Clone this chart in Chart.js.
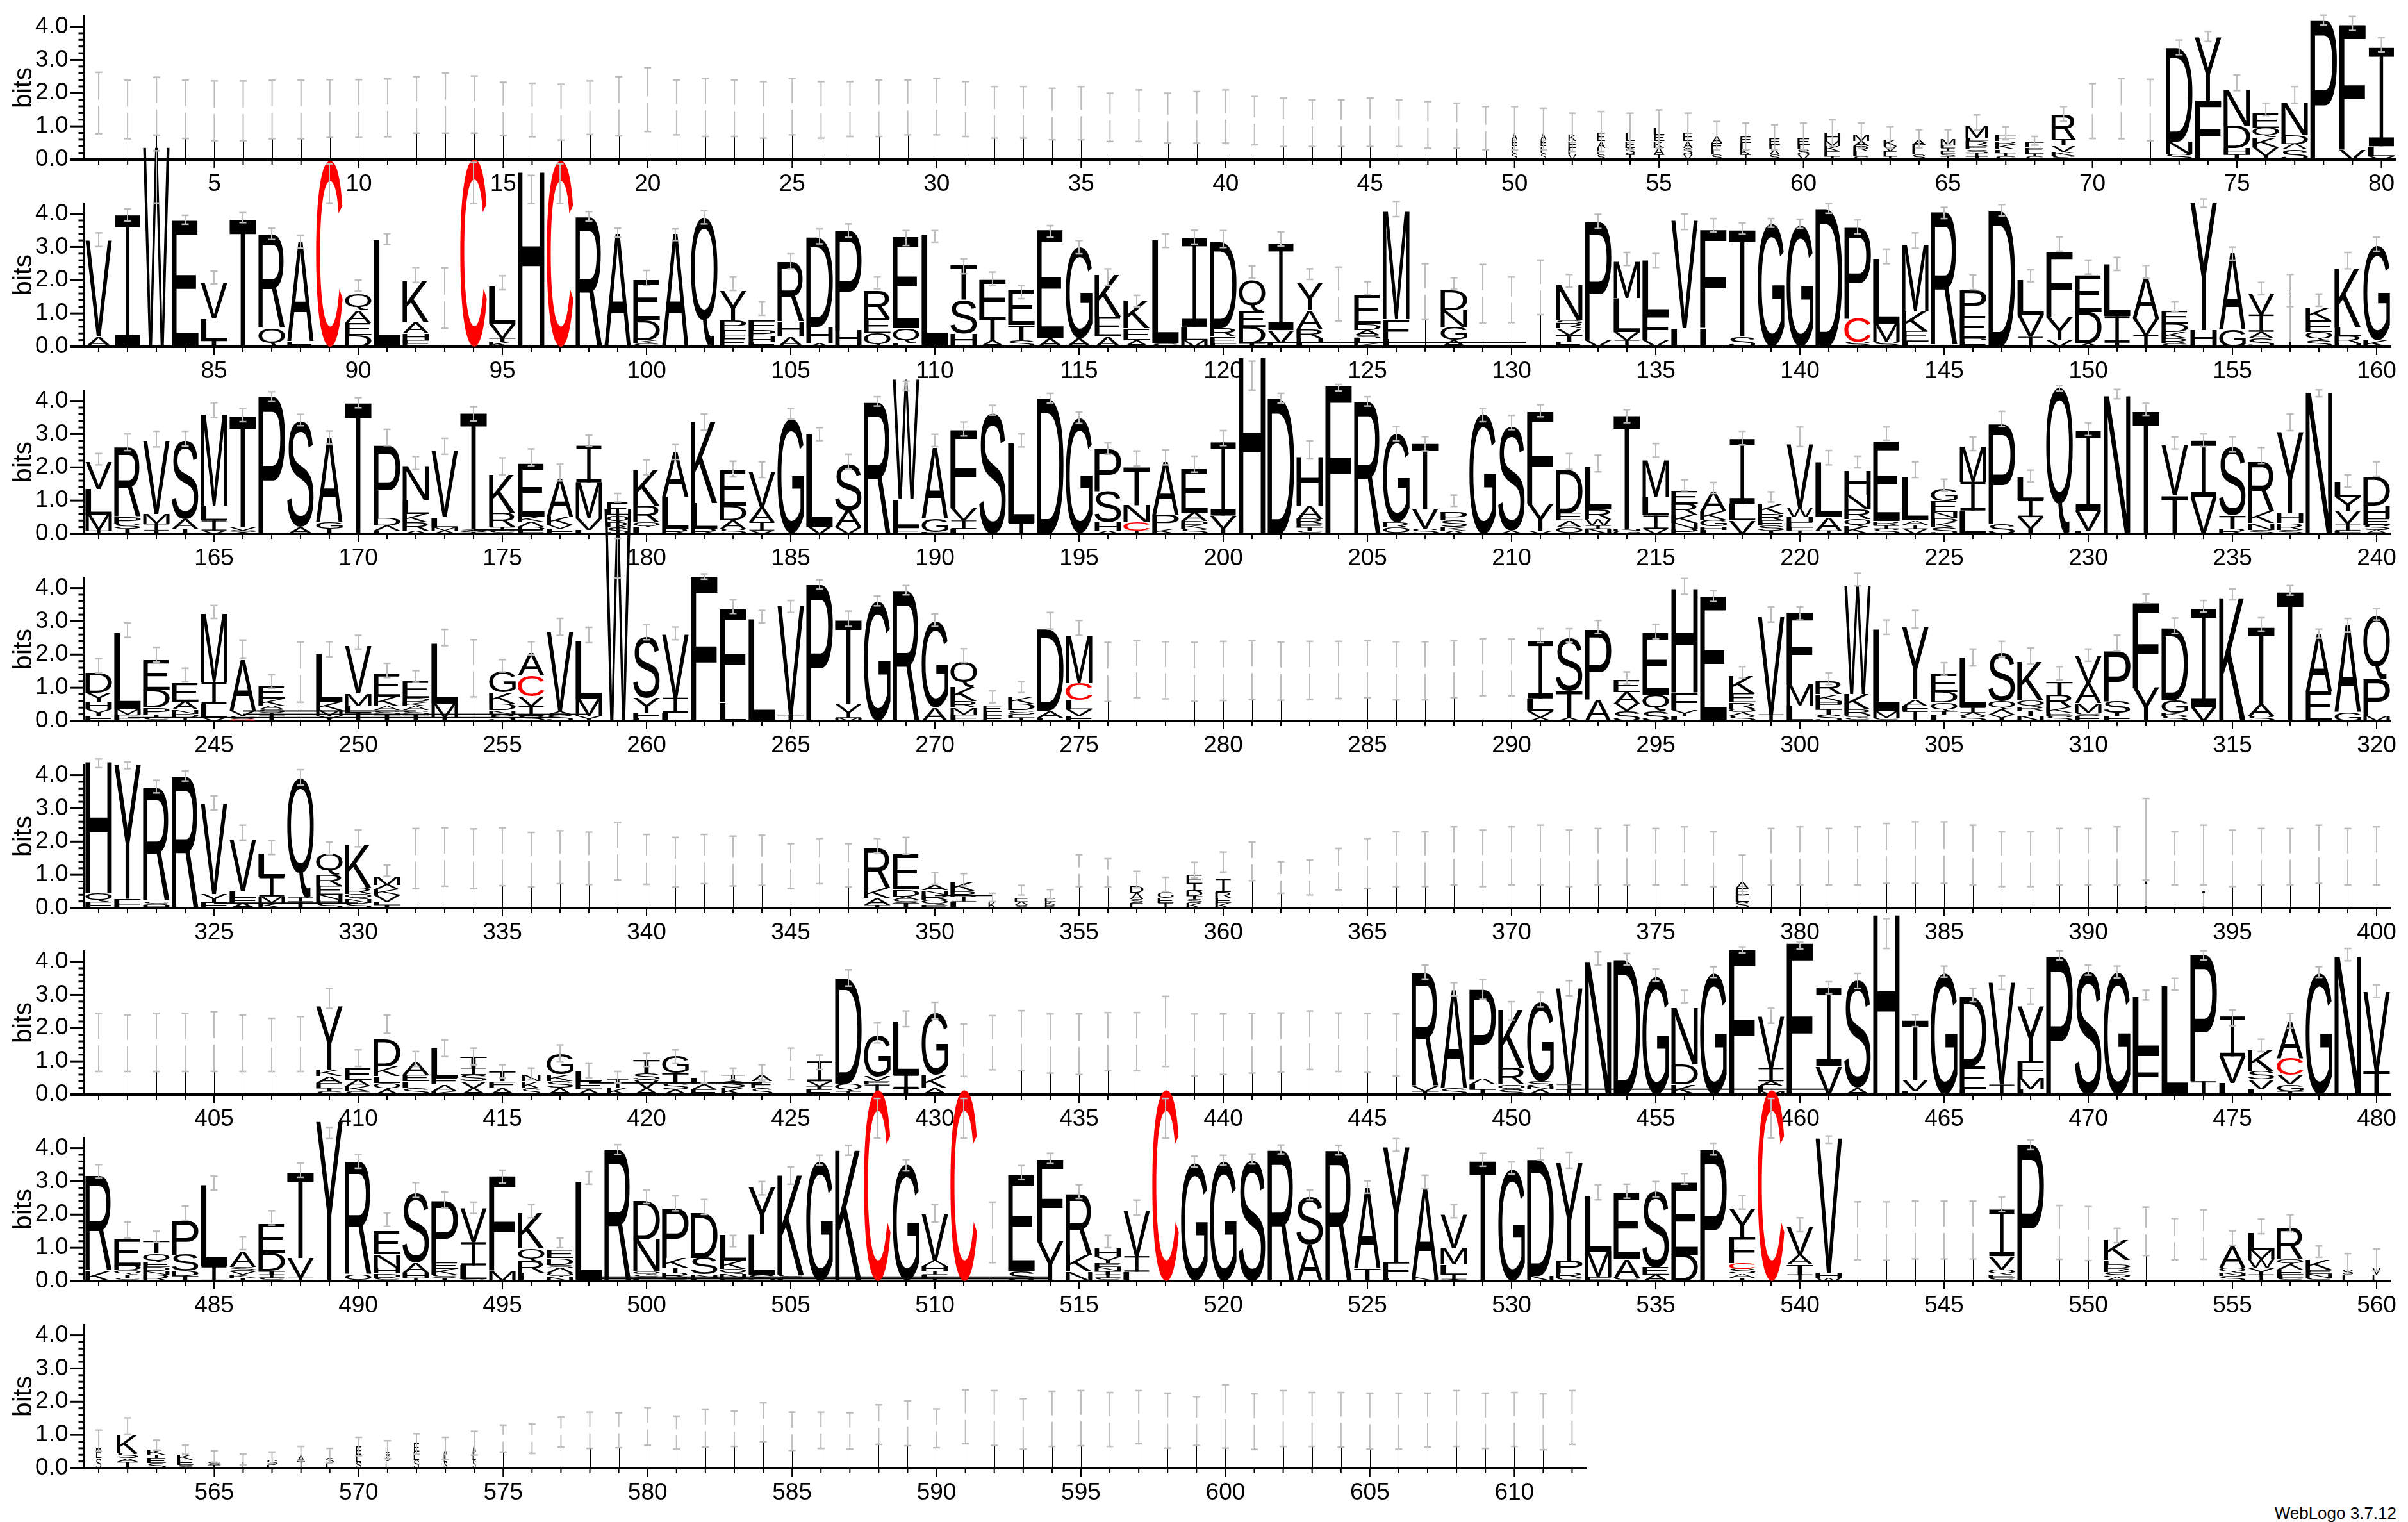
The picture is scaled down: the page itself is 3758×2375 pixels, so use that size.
<!DOCTYPE html>
<html>
<head>
<meta charset="utf-8">
<title>WebLogo</title>
<script src="https://cdn.jsdelivr.net/npm/chart.js@4"></script>
<style>
  body { margin: 0; background: #fff; width: 3758px; height: 2375px; overflow: hidden; position: relative; }
  canvas { position: absolute; left: 0; }
  #credit { position: absolute; right: 18px; top: 2346px; font: 26px "Liberation Sans"; color: #000; }
</style>
</head>
<body>
<div id="credit">WebLogo 3.7.12</div>
<script>
// stacks are bottom to top, letter + height in bits. "~.5" = column narrower than the full slot
const row1Stacks = [
  "","","","","","","","","","",
  "","","","","","","","","","",
  "","","","","","","","","","",
  "","","","","","","","","","",
  "","","","","","","","","","~.2 S.2 L.2 E.2 A.2",
  "~.2 S.2 L.2 E.2 A.2","~.3 V.15 L.2 E.2 K.2","~.3 S.15 L.2 A.2 E.25","~.35 T.15 S.2 E.2 L.25","~.4 T.15 A.2 K.2 E.2 L.2","~.35 V.15 S.2 A.2 E.25","~.4 S.15 L.15 E.2 A.2","~.4 T.15 K.15 L.2 E.2","~.4 S.15 A.15 L.15 E.2","~.45 V.15 S.15 L.15 E.2",
  "~.6 T.1 E.15 K.15 M.15 H.25","~.6 S.1 L.15 R.15 A.15 M.2","~.5 T.1 E.15 V.15 K.2","~.5 S.15 L.15 E.15 A.15","~.55 T.1 S.08 E.08 I.08 L.08 M.2","~.85 T.1 I.1 S.1 E.1 R.15 L.1 M.35","~.8 S.1 I.1 L.1 K.15 R.1 F.2","~.7 S.1 I.08 L.08 E.1 F.15","~.9 S.12 K.12 V.18 T.2 R.75","",
  "","","S.18 N.36 D2.81","F1.78 Y1.9","T.15 H.2 D.66 N1.08","T.12 V.25 K.3 Q.27 E.45","S.3 A.17 D.27 N.98","P4.2","V.3 F3.75","V.1 L.3 I2.96"
];
const row1ErrHigh = [
  2.63,2.39,2.48,2.39,2.37,2.37,2.39,2.39,2.41,2.41,
  2.43,2.5,2.61,2.52,2.33,2.3,2.27,2.37,2.5,2.77,
  2.4,2.45,2.4,2.35,2.45,2.35,2.35,2.4,2.4,2.45,
  2.35,2.2,2.2,2.15,2.2,2.0,2.1,2.0,2.05,2.1,
  1.9,1.85,1.8,1.8,1.85,1.8,1.75,1.7,1.6,1.6,
  1.55,1.4,1.45,1.4,1.5,1.4,1.15,1.1,1.05,1.1,
  1.2,1.1,1.0,.9,.9,1.35,.99,.7,1.6,2.29,
  2.44,2.42,3.6,3.86,2.55,1.7,2.2,4.35,4.31,3.67
];
const row1ErrLow = [
  .78,.63,.74,.64,.57,.57,.63,.63,.67,.67,
  .69,.8,.8,.8,.73,.69,.59,.76,.72,.85,
  .75,.7,.7,.65,.75,.65,.7,.7,.75,.75,
  .7,.65,.65,.6,.6,.55,.55,.5,.5,.5,
  .45,.4,.4,.4,.4,.4,.35,.35,.3,.3,
  .3,.25,.25,.3,.35,.3,.3,.3,.3,.3,
  .4,.35,.35,.35,.44,.9,.6,.44,1.16,.64,
  .63,.57,3.16,3.56,2.08,1.33,1.7,4.05,3.89,3.25
];
const row1Streaks = [];

const row2Stacks = [
  "A.3 V2.9","I3.95","W6.0","E3.8","T.2 L.65 V1.05","T3.85","Q.55 R2.8","E.15 A3.0","C5.6","D.35 E.37 A.37 Q.5",
  "L3.2","E.1 F.1 H.2 A.33 K1.24","","C5.65","K.15 T.1 V.42 L1.14","H5.25","C5.6","R3.9","A3.4","S.1 K.1 D.6 E1.2",
  "A3.4","Q3.9","E.25 F.25 P.3 Y.9","F.15 H.15 P.2 F.3","A.3 H.45 R1.8","A.1 H.5 D2.7","H.5 P3.0","Q.4 E.45 R.85","L.1 Q.45 E2.75","V.05 L3.3",
  "H.4 S1.0 T1.05","A.2 T.7 F1.1","S.2 T.45 E1.05","A.25 E3.25","A.25 G2.75","A.3 E.6 K1.25","A.2 E.35 K.85","S.1 L3.1","M.2 L.4 I2.66","F.1 E.2 R.25 D2.6",
  "T.1 D.5 E.46 Q.95","L.1 V.4 I2.6","L.15 H.1 R.26 A.58 Y.85","","K.1 L.15 S.1 A.15 D.17 E.9","L.22 F.6 M3.23","","A.2 G.4 N.5 D.6","","",
  "","E.15 T.2 V.2 R.15 S.1 N1.05","V.2 P3.55","I.2 V.25 L1.02 M1.08","V.2 F.75 L1.66","L.55 V3.24","L.55 F2.95","S.3 T3.2","G3.7","G3.65",
  "D4.15","S.15 C.7 P2.75","S.15 M.55 L1.95","L.15 E.32 K.6 M2.0","I.05 R4.0","F.15 P.1 E.67 P.75","D4.1","I.3 V.65 L1.05","V.2 Y.7 F1.95","A.1 D.95 E1.12",
  "T.12 I.8 L1.55","I.35 V.48 A1.25","S.1 R.15 K.2 D.25 E.4","H.5 Y3.85","G.5 A2.3","S.25 A.2 I.52 V.65","~.1 I1.7","S.2 Q.25 E.35 K.4","H.1 R.22 L.26 K1.76","K.2 G2.85"
];
const row2ErrHigh = [
  3.43,4.15,5.9,3.96,2.28,4.04,3.57,3.36,5.5,2.01,
  3.41,2.39,2.38,5.55,2.14,5.16,5.51,4.07,3.57,2.3,
  3.55,4.1,2.1,1.35,2.8,3.55,3.7,2.1,3.5,3.5,
  2.65,2.25,1.85,3.65,3.2,2.35,1.55,3.4,3.51,3.5,
  2.44,3.46,2.35,2.4,1.96,4.38,2.5,2.08,2.48,2.1,
  2.61,2.18,3.99,2.84,2.81,4.0,3.86,3.73,3.86,3.84,
  4.31,3.82,2.94,3.43,4.2,2.16,4.28,2.32,3.31,2.61,
  2.69,2.45,1.35,4.45,3.0,1.94,2.18,1.59,2.84,3.3
];
const row2ErrLow = [
  3.02,3.79,4.33,3.69,1.9,3.74,3.23,2.97,4.33,1.68,
  3.08,1.94,.56,4.31,1.72,4.31,4.31,3.78,3.3,1.85,
  3.2,3.7,1.7,.95,2.35,3.1,3.3,1.75,3.05,3.15,
  2.2,1.85,1.45,3.3,2.8,1.85,1.2,2.99,3.09,2.99,
  2.06,3.03,2.03,.78,1.57,3.92,.82,1.73,.72,.73,
  .97,1.8,3.56,2.45,2.39,3.53,3.46,3.39,3.6,3.56,
  4.02,3.4,2.5,2.97,3.86,1.72,3.94,1.96,2.88,2.19,
  2.3,2.06,1.05,4.2,2.61,1.57,1.21,1.22,2.35,2.88
];
const row2Streaks = [[121,130.5,.13]];

const row3Stacks = [
  "I.1 M.48 L.77 V.8","T.15 S.15 P.2 R2.1","T.1 I.2 M.3 V2.2","T.15 A.3 S2.37","V.1 I.3 L.45 M2.75","A.05 S.05 V.1 T3.36","P4.13","A.2 S3.2","T.15 G.2 A2.55","T3.96",
  "L.1 A.15 D.22 P2.2","A.1 R.25 K.25 L.42 N1.02","A.1 M.1 L.3 V2.0","T.05 A.05 S.05 T3.5","S.1 I.1 R.42 K1.15","F.1 D.12 A.14 K.15 E1.6","F.15 V.12 K.25 A1.15","L.12 V.35 M1.08 I1.1","~.8 S.2 R.15 Q.2 E.4","L.2 Q.15 R.5 K1.05",
  "R.15 L.95 A1.35","R.15 L.77 K2.45","S.15 A.25 D.45 E1.05","V.1 I.25 A.45 V1.05","G3.43","V.22 L2.79","V.2 A.5 S1.4","R3.95","F.2 L.85 W3.6","F.05 G.4 A2.15",
  "L.15 I.25 V.38 F2.35","S3.65","I.33 L2.4","D4.08","G3.45","A.1 H.25 S.95 P1.25","I.1 C.25 N.52 T1.15","K.15 P.42 A1.6","S.15 K.12 D.11 A.26 E1.3","T.15 V.4 I2.2",
  "H5.3","D4.07","S.1 T.1 E.1 R.15 A.4 H1.45","F4.45","R3.97","Q.2 R.15 G2.66","S.15 V.6 T1.96","A.1 K.1 S.2 P.25","G3.6","A.1 S3.15",
  "V.1 Y.8 F2.76","Q.2 A.2 E.22 D1.3","N.15 I.1 W.2 R.3 L1.25","G.1 N.05 T3.4","V.15 I.4 L.55 M1.12","P.15 N.18 K.25 R.32 E.4","L.12 H.1 G.2 K.25 A.6","V.4 L.5 I1.95","T.1 S.15 E.15 R.2 K.3","I.1 F.1 E.15 H.15 W.3 V1.9",
  "I.1 A.4 L1.65","K.22 Q.23 R.29 N.44 H.72","S.15 I.1 R.13 E2.39","V.15 I.12 A.13 L1.3","S.2 K.15 D.13 N.18 E.32 G.39","L.7 I.87 M1.05","S.3 P3.0","T.15 V.35 I.53 L.66","Q4.4","L.1 V.58 I2.42",
  "N4.15","T3.7","T1.15 V1.5","V1.1 I1.7","R.15 T.4 S2.06","S.12 N.2 K.35 R1.5","S.12 R.2 H.3 Y2.45","N4.25","F.1 I.2 V.4 Y.41 L.45","A.12 S.15 E.2 H.37 D.87"
];
const row3ErrHigh = [
  2.42,3.01,3.09,3.09,3.95,3.78,4.28,3.6,3.1,4.1,
  3.15,2.33,2.88,3.83,2.29,2.56,2.1,2.98,1.22,2.23,
  2.69,3.61,2.19,2.17,3.78,3.2,2.4,4.13,4.6,3.0,
  3.37,3.87,3.01,4.23,3.67,2.74,2.5,2.53,2.34,3.11,
  5.2,4.23,2.8,4.5,4.13,3.24,2.93,1.17,3.78,3.57,
  3.89,2.42,2.37,3.74,2.72,1.63,1.55,3.09,1.27,3.22,
  2.51,2.34,3.22,2.17,1.65,2.92,3.69,1.92,4.47,3.35,
  4.35,3.93,2.92,3.01,2.93,2.6,3.61,4.34,1.78,2.17
];
const row3ErrLow = [
  2.08,2.51,2.62,2.65,3.5,3.38,4.0,3.26,2.71,3.8,
  2.66,1.94,2.4,3.4,1.78,2.05,1.6,2.63,.96,1.78,
  2.24,3.13,1.72,1.7,3.46,2.81,1.96,3.85,4.33,2.63,
  2.95,3.58,2.62,3.94,3.33,2.4,2.05,2.08,1.86,2.66,
  4.33,3.94,2.26,4.3,3.85,2.81,2.5,.83,3.38,3.14,
  3.53,1.94,1.87,3.35,2.31,1.31,1.22,2.68,.96,2.63,
  2.08,1.99,2.82,1.7,1.28,2.51,3.24,1.57,4.3,2.96,
  4.07,3.57,2.56,2.63,2.47,2.12,3.11,4.13,1.41,1.74
];
const row3Streaks = [[174,176.4,.12]];

const row4Stacks = [
  "F.15 T.1 V.1 H.22 Y.28 D.58","F.2 M.15 L2.3","S.1 T.1 P.2 D.53 E.92","I.1 D.12 N.12 A.24 E.56","V.1 L.42 I.65 M2.05","C.05 S.1 V.15 A1.55","T.15 I.1 S.1 A.12 K.2 E.37","","Y.15 M.18 K.22 L1.45","T.25 L.2 M.38 V1.42",
  "T.2 S.12 A.12 K.3 E.67","T.2 S.12 A.12 K.13 D.13 E.49","T.1 M.42 L1.8","","S.2 N.13 D.2 K.33 G.64","S.15 I.3 V.3 C.61 A.66","S.2 A.1 V2.38","Y.15 M.5 L1.75","W6.4","L.1 F.15 Y.44 S1.85",
  "L.25 I.45 V1.9","F4.35","L.55 F2.8","L3.05","T.2 V3.25","P4.1","M.1 I.15 V.25 T2.55","G3.6","R3.9","A.4 G2.6",
  "F.2 M.2 R.2 K.42 Q.75","~.7 F.15 L.12 E.2","I.1 E.1 S.12 D.2 K.2","L.1 A.2 D2.45","F.15 V.2 L.28 C.5 M1.42","","","","","",
  "","","","","","","","","","",
  "A.1 V.2 L.38 I1.73","A.1 T.8 S1.58","A.65 P2.1","S.3 V.22 A.34 E.36","S.3 Q.5 E1.85","L.15 Y.18 F.52 H3.1","E3.75","S.15 A.1 Q.12 R.18 E.27 K.52","I.2 V2.95","L.46 M.65 F2.15",
  "S.2 T.15 E.15 H.1 K.2 R.4","S.1 Q.1 R.15 K.46 W3.25","S.1 M.2 L2.45","I.3 F.15 A.2 Y2.18","L.2 T.1 Q.25 D.32 E.55","S.15 A.1 I.15 L1.5","T.1 V.1 A.15 Q.25 S1.45","N.15 T.15 R.12 Q.2 K1.15","S.15 E.1 K.15 R.4 T.4","E.15 S.1 M.28 A.6 V.82",
  "F.15 T.1 S.35 P1.5","Y1.0 F2.55","S.15 K.1 G.37 D2.17","V.42 I2.95","K3.7","S.15 A.35 T2.3","T3.9","E.88 A1.74","G.25 A2.65","M.15 P1.1 Q1.9"
];
const row4ErrHigh = [
  1.88,2.95,2.22,1.59,3.48,2.44,1.4,2.38,2.39,2.58,
  1.74,1.52,2.76,2.45,1.85,2.39,3.09,2.82,5.5,2.9,
  2.83,4.43,3.65,3.33,3.63,4.25,3.31,3.76,4.08,3.22,
  2.18,.91,1.19,3.27,3.03,2.37,2.42,2.39,2.37,2.4,
  2.42,2.38,2.4,2.4,2.42,2.39,2.39,2.42,2.47,2.47,
  2.78,2.78,3.03,1.48,2.91,4.29,3.93,1.64,3.43,3.44,
  1.45,4.45,3.04,3.33,1.76,2.17,2.4,2.2,1.64,2.17,
  2.59,3.83,3.1,3.63,3.98,3.11,4.08,2.77,3.09,3.39
];
const row4ErrLow = [
  1.45,2.52,1.78,1.18,3.09,1.9,.99,.57,1.93,2.17,
  1.31,1.17,2.27,.73,1.48,1.99,2.58,2.36,4.31,2.45,
  2.45,4.27,3.24,2.96,3.27,3.97,2.85,3.47,3.8,2.85,
  1.76,.55,.86,2.77,2.58,.59,.7,.67,.6,.62,
  .65,.63,.65,.68,.7,.64,.64,.7,.76,.76,
  2.36,2.38,2.64,1.11,2.48,3.82,3.6,1.29,2.98,3.04,
  1.1,4.07,2.61,2.8,1.38,1.66,1.94,1.72,1.24,1.8,
  2.12,3.57,2.64,3.28,3.65,2.71,3.79,2.5,2.69,3.04
];
const row4Streaks = [[246,252,.3],[246,258,.2],[242,257,.1]];

const row5Stacks = [
  "F.2 Q.25 H3.95","F.28 Y4.05","H.1 S.1 R3.4","R3.95","F.18 Y.25 V2.72","A.15 F.15 L.2 V1.55","K.15 M.2 I.6 L.68","T.2 I.12 Q3.6","S.15 H.1 N.15 E.28 R.32 Q.62","S.15 N.12 Q.15 R.2 K1.27",
  "T.1 L.1 V.2 K.15 A.15 M.25","","","","","","","","","",
  "","","","","","","","T.1 A.2 K.3 R1.2","T.15 S.1 A.1 D.2 E1.05","E.1 Q.15 R.15 N.13 A.15",
  "L.2 I.15 R.15 K.3","~.3 K.2","~.5 S.1 A.1 E.1","~.4 R.1 K.1 E.1","","","~.5 E.15 S.12 A.2 D.2","~.6 I.15 E.15 G.18","~.6 K.15 S.12 T.1 D.15 I.22 E.28","~.6 K.15 E.15 R.18 I.4",
  "","","","","","","","","","",
  "","","","","","","","~.5 S.2 L.2 E.2 A.2","","",
  "","","","","","","","","","",
  "","~.1 I.8","","~.1 I.5","","","","","",""
];
const row5ErrHigh = [
  4.49,4.4,3.85,4.13,3.38,2.5,2.04,4.17,1.99,2.36,
  1.3,2.4,2.42,2.39,2.42,2.28,2.33,2.29,2.58,2.22,
  2.13,2.22,2.17,2.2,1.94,2.1,1.94,2.1,2.13,1.08,
  1.04,.45,.69,.56,1.6,1.49,1.11,.93,1.38,1.69,
  1.99,1.4,1.45,1.8,2.1,2.3,2.3,2.45,2.35,2.45,
  2.5,2.35,2.4,2.5,2.4,2.45,2.3,1.6,2.4,2.45,
  2.4,2.45,2.55,2.6,2.6,2.5,2.3,2.3,2.4,2.4,
  2.45,3.3,2.3,2.5,2.35,2.4,2.4,2.5,2.4,2.45
];
const row5ErrLow = [
  4.23,4.2,3.47,3.83,2.96,2.05,1.62,3.71,1.62,1.85,
  .96,.59,.66,.59,.68,.64,.74,.71,.85,.72,
  .64,.74,.67,.69,.59,.74,.64,1.67,1.63,.72,
  .67,.2,.4,.29,.65,.64,.62,.5,.91,1.09,
  .83,.45,.4,.55,.6,.65,.65,.7,.65,.7,
  .7,.65,.7,.7,.7,.7,.65,.4,.7,.7,
  .7,.7,.75,.75,.75,.7,.65,.65,.7,.7,
  .7,.85,.7,.7,.65,.7,.7,.75,.7,.7
];
const row5Streaks = [[325,330,.15],[350,352,.38]];

const row6Stacks = [
  "","","","","","","","","S.1 T.1 E.15 A.2 K.2 Y1.9","S.1 K.15 A.2 E.35",
  "A.15 Q.2 L.2 K.3 D.8","S.2 L.2 E.2 A.4","K.1 A.2 E.2 L.9","A.2 V.2 S.2 I.2 T.35","A.2 E.2 T.3","~.7 S.2 K.2 N.2","A.2 S.2 K.2 G.6","A.15 E.25 L.3","~.8 K.2 T.3","A.2 V.25 S.2 T.4",
  "A.15 S.2 T.3 G.5","E.15 A.15 L.2","~.9 K.2 S.2 T.2","~.8 S.2 E.2 A.2","","E.15 T.1 V.15 I.6","I.1 Q.22 D3.15","I.3 E.1 V.15 G1.25","T.2 I.4 L1.6","A.2 K.4 G1.85",
  "","","","","","","","","","",
  "","","","","","","T.1 V.15 R3.42","S.2 A2.95","T.15 L.15 A.17 P2.7","S.15 Q.15 R.5 K1.75",
  "A.15 N.1 S.15 G2.4","T.15 I.15 V2.9","N4.0","D4.05","G3.55","K.3 D.6 N1.7","G3.65","F4.35","M.1 L.15 A.15 I.4 V1.55","F4.55",
  "V.85 I2.35","A.2 S3.25","H5.4","L.1 V.35 T1.8","G3.65","L.15 E.7 D2.1","I.3 V3.05","L.15 M.35 F.5 Y1.65","P4.15","S3.73",
  "G3.68","F1.3 L1.65","L3.25","I.4 P3.8","L.35 V.8 I1.2","L.15 V.3 S.25 K.65","T.1 G.2 V.3 C.5 A1.1","G3.65","N4.15","T.7 V2.4"
];
const row6ErrHigh = [
  2.45,2.4,2.45,2.45,2.5,2.4,2.3,2.35,3.2,1.35,
  2.4,1.3,1.65,1.4,.9,.8,1.5,.95,.7,1.25,
  1.35,.7,.8,.9,1.4,1.19,3.76,2.16,2.52,2.78,
  2.13,2.38,2.53,2.43,2.43,2.47,2.47,2.96,2.43,2.43,
  2.45,2.46,2.52,2.46,2.44,2.43,3.9,3.37,3.47,2.8,
  3.08,3.43,4.3,4.25,3.78,3.14,3.85,4.45,2.6,4.6,
  3.4,3.65,5.3,2.41,3.87,3.2,3.58,3.2,4.33,3.9,
  3.87,3.14,3.5,4.33,2.55,1.67,2.45,3.85,4.4,3.3
];
const row6ErrLow = [
  .7,.7,.7,.7,.7,.7,.7,.7,2.6,.85,
  1.85,.85,1.15,.9,.5,.45,1.0,.5,.35,.85,
  .95,.35,.45,.4,.45,.76,3.27,1.56,2.05,2.28,
  .55,.75,.72,.65,.61,.72,.72,.85,.57,.61,
  .65,.68,.76,.7,.67,.57,3.48,2.97,2.87,2.25,
  2.64,2.98,3.9,3.9,3.42,2.77,3.53,4.27,2.15,4.38,
  3.04,3.2,4.4,2.05,3.54,2.8,3.17,2.73,4.05,3.6,
  3.52,2.85,3.15,4.05,2.07,1.3,2.0,3.53,4.03,2.93
];
const row6Streaks = [[452,461,.16],[418,424,.35]];

const row7Stacks = [
  "K.3 R2.85","S.1 T.1 Q.12 D.15 E.8","R.2 N.1 D.12 E.15 Q.25 T.4","T.15 D.15 S.5 P1.0","I.45 L2.45","T.1 K.1 V.1 S.13 A.48","S.1 I.1 T.1 D.55 E.87","I.1 V.6 T2.6","Y4.8","Q.18 R3.4",
  "S.1 D.13 H.18 N.4 E.7","I.1 H.15 A.29 S2.1","T.1 S.1 K.16 E.2 P1.85","S.05 L.42 I.7 V1.0","M.3 F2.85","L.25 R.35 Q.38 K1.05","N.12 Q.12 A.15 S.1 D.2 E.25","L3.0","R3.95","L.1 S.1 Q.1 N.96 D1.15",
  "S.1 R.15 T.15 K.3 P1.48","L.1 N.1 S.5 D1.35","E.1 N.12 Q.15 K.25 L.75","S.2 L1.2 Y1.4","L.1 S.1 K3.0","G3.6","K3.93","C5.75","G3.48","T.1 L.1 I.1 H.14 A.16 V1.4",
  "C5.75","","S.3 E2.9","Y1.22 F2.45","N.28 K.5 R1.85","S.1 I.1 T.1 N.12 E.12 Y.2 H.25","L.28 I.47 V1.35","C5.75","G3.55","G3.6",
  "S3.65","R3.93","A1.1 S1.42","R3.92","T.38 A2.4","L.08 F.5 Y3.45","N.12 A2.7","A.05 I.15 L.3 M.48 V1.0","T3.63","G3.35",
  "N.15 D3.5","S.1 R.15 P.37 Y2.95","F.12 M.75 L1.7","S.1 A.55 E2.0","A.2 E.22 S2.3","D.8 E2.18","P3.95","T.1 A.12 S.15 C.17 F.78 Y.87","C5.75","I.2 T.3 A.3 V.85",
  "W.1 H.15 V4.05","","","","","","S.1 E.1 Q.15 V.4 I1.4","P4.1","","",
  "A.12 S.15 R.12 D.12 E.13 K.6","","","","S.15 N.1 Q.15 A.65","I.2 Y.2 W.25 M.3 L.5","S.1 L.1 E.15 A.15 Q.15 R.95","S.1 N.12 E.12 K.3","~.4 L.2 S.15","~.3 L.2 V.2"
];
const row7ErrHigh = [
  3.51,1.78,1.5,2.26,3.16,1.33,2.12,3.56,4.63,3.82,
  2.06,2.97,2.68,2.38,3.34,2.31,1.3,3.3,4.11,2.74,
  2.57,2.46,1.38,3.0,3.44,3.79,4.09,5.5,3.66,2.31,
  5.5,2.38,3.48,3.85,2.9,1.38,2.44,5.5,3.76,3.79,
  3.83,4.1,2.74,4.09,3.02,4.29,3.19,2.31,3.85,3.59,
  4.0,3.88,2.9,2.92,3.0,3.24,4.15,2.58,5.5,1.91,
  4.37,2.39,2.39,2.41,2.41,2.41,2.54,4.25,2.28,2.25,
  1.59,2.23,1.89,2.15,1.51,1.87,2.0,1.06,.83,.97
];
const row7ErrLow = [
  3.1,1.3,1.17,1.83,2.74,.95,1.69,3.13,4.29,3.4,
  1.65,2.52,2.2,2.04,2.95,1.91,1.01,2.92,3.82,2.34,
  2.12,2.01,1.04,2.6,2.92,3.49,3.79,4.31,3.32,1.78,
  4.31,.56,3.06,3.54,2.49,1.01,1.99,4.31,3.44,3.5,
  3.53,3.83,2.45,3.8,2.65,3.91,2.78,1.91,3.46,3.22,
  3.65,3.4,2.45,2.5,2.54,2.92,3.8,2.17,4.31,1.49,
  4.15,.64,.63,.67,.67,.67,2.1,3.96,.66,.62,
  1.16,.77,.64,.66,1.08,1.43,1.49,.72,.23,.31
];
const row7Streaks = [[498,514,.12],[498,514,.07]];

const row8Stacks = [
  "~.2 S.3 E.3","~.8 T.2 A.1 S.15 K.55","~.7 S.15 E.15 T.1 K.15","~.6 S.1 E.15 K.15","~.5 T.1 S.1","~.1 L.2","~.4 L.1 S.15","~.3 I.2 A.2","~.3 L.15 S.15","~.2 S.2 L.2 E.25",
  "~.15 L.2 S.2 E.15","~.2 S.25 L.25 E.25","~.12 S.2 L.2 A.2","~.12 S.25 L.25 A.3","","","","","","",
  "","","","","","","","","","",
  "","","","","","","","","","",
  "","","","","","","","","","",
  "",""
];
const row8ErrHigh = [
  1.15,1.52,.85,.7,.53,.43,.49,.66,.6,.93,
  .83,1.04,.93,1.11,1.3,1.33,1.54,1.69,1.67,1.83,
  1.57,1.78,1.72,1.97,1.69,1.69,1.67,1.91,2.03,1.79,
  2.36,2.34,2.1,2.32,2.34,2.28,2.34,2.26,2.16,2.51,
  2.24,2.34,2.28,2.28,2.26,2.26,2.26,2.34,2.26,2.28,
  2.24,2.34
];
const row8ErrLow = [
  .51,1.03,.55,.42,.18,.1,.14,.24,.15,.38,
  .29,.43,.26,.4,.49,.45,.64,.6,.62,.7,
  .58,.64,.66,.8,.54,.6,.58,.72,.68,.62,
  .74,.69,.58,.66,.68,.66,.74,.61,.69,.61,
  .57,.66,.66,.64,.58,.58,.64,.66,.6,.66,
  .56,.72
];
const row8Streaks = [];

const rows = [
  { first: 1, stacks: row1Stacks, high: row1ErrHigh, low: row1ErrLow, streaks: row1Streaks, zero: 249 },
  { first: 81, stacks: row2Stacks, high: row2ErrHigh, low: row2ErrLow, streaks: row2Streaks, zero: 541 },
  { first: 161, stacks: row3Stacks, high: row3ErrHigh, low: row3ErrLow, streaks: row3Streaks, zero: 833 },
  { first: 241, stacks: row4Stacks, high: row4ErrHigh, low: row4ErrLow, streaks: row4Streaks, zero: 1125 },
  { first: 321, stacks: row5Stacks, high: row5ErrHigh, low: row5ErrLow, streaks: row5Streaks, zero: 1417 },
  { first: 401, stacks: row6Stacks, high: row6ErrHigh, low: row6ErrLow, streaks: row6Streaks, zero: 1708 },
  { first: 481, stacks: row7Stacks, high: row7ErrHigh, low: row7ErrLow, streaks: row7Streaks, zero: 1999 },
  { first: 561, stacks: row8Stacks, high: row8ErrHigh, low: row8ErrLow, streaks: row8Streaks, zero: 2291 },
];

const SLOT = 45.1;
const AXIS_LEFT = 131.5;
const PLOT_H = 224;
const TOP_ROOM = 120;
const BOTTOM_ROOM = 70;
const GREY = "#bdbdbd";
const FONT = '"Liberation Sans", Arial, sans-serif';

function parseStack(text) {
  let width = 1, base = 0;
  const layers = [];
  text.split(" ").filter(Boolean).forEach((tok) => {
    if (tok[0] === "~") { width = parseFloat(tok.slice(1)); return; }
    const h = parseFloat(tok.slice(1));
    layers.push({ ch: tok[0], lo: base, hi: base + h });
    base += h;
  });
  return { width, layers };
}

function drawLetter(ctx, ch, x, w, top, bottom) {
  const h = bottom - top;
  const left = x - w / 2;
  ctx.fillStyle = ch === "C" ? "#ff0000" : "#000000";
  if (ch === "I") {
    // the logo font has a serifed I
    const bar = Math.max(h * 0.09, 0.6);
    const stem = w * 0.13;
    ctx.fillRect(left + w * 0.03, top, w * 0.94, bar);
    ctx.fillRect(left + w * 0.03, bottom - bar, w * 0.94, bar);
    ctx.fillRect(x - stem / 2, top, stem, h);
    return;
  }
  ctx.font = "200px " + FONT;
  ctx.textBaseline = "alphabetic";
  ctx.textAlign = "left";
  const m = ctx.measureText(ch);
  const gl = -m.actualBoundingBoxLeft, gr = m.actualBoundingBoxRight;
  const gt = -m.actualBoundingBoxAscent, gb = m.actualBoundingBoxDescent;
  ctx.save();
  ctx.translate(left, top);
  ctx.scale(w / (gr - gl), h / (gb - gt));
  ctx.fillText(ch, -gl, -gt);
  ctx.restore();
}

const logoPlugin = {
  id: "logo",
  beforeDatasetsDraw(chart) {
    const ctx = chart.ctx, x = chart.scales.x, y = chart.scales.y;
    const zero = y.getPixelForValue(0);
    ctx.save();
    ctx.fillStyle = "#000";
    // y ticks
    y.ticks.forEach((t) => {
      const n = t.value * 5;
      if (Math.abs(n - Math.round(n)) > 1e-6) return;
      const major = Math.round(n) % 5 === 0;
      const px = y.getPixelForValue(t.value);
      const len = major ? 22 : 9;
      ctx.fillRect(AXIS_LEFT - len, px - 1.5, len, 3);
    });
    // baseline, it runs out over the 0.0 tick
    ctx.fillRect(AXIS_LEFT - 22, zero - 2, chart.chartArea.right - AXIS_LEFT + 22, 4);
    // x ticks
    chart.data.labels.forEach((lab, i) => {
      const px = x.getPixelForValue(i);
      ctx.fillRect(px - 1, zero, 2, lab % 5 === 0 ? 13 : 8);
    });
    ctx.restore();
  },
  afterDatasetsDraw(chart) {
    const ctx = chart.ctx, x = chart.scales.x, y = chart.scales.y;
    const info = chart.data.logo;
    ctx.save();
    // long slivers that smear over several columns
    ctx.fillStyle = "#000";
    info.streaks.forEach((s) => {
      const a = x.getPixelForValue(s[0] - info.first), b = x.getPixelForValue(s[1] - info.first);
      ctx.fillRect(a, y.getPixelForValue(s[2]) - 1, b - a, 2);
    });
    chart.data.datasets.forEach((ds, di) => {
      if (!ds.letters) return;
      chart.getDatasetMeta(di).data.forEach((el, i) => {
        const ch = ds.letters[i];
        if (!ch) return;
        const p = el.getProps(["x", "y", "base", "width"], true);
        drawLetter(ctx, ch, p.x, p.width * info.widths[i], Math.min(p.y, p.base), Math.max(p.y, p.base));
      });
    });
    // error bars go over the letters
    const errMeta = chart.getDatasetMeta(chart.data.datasets.length - 1);
    errMeta.data.forEach((el, i) => {
      const p = el.getProps(["x", "y", "base"], true);
      const top = Math.min(p.y, p.base), bottom = Math.max(p.y, p.base);
      const empty = info.widths[i] === 0;
      ctx.fillStyle = "#000";
      if (empty) ctx.fillRect(Math.round(p.x), bottom, 1, y.getPixelForValue(0) - bottom);
      ctx.fillStyle = GREY;
      if (empty) {
        // white gap in the middle of the bar where the empty column's top is
        const mid = (top + bottom) / 2;
        ctx.fillRect(p.x - 1, top, 2, mid - 5 - top);
        ctx.fillRect(p.x - 1, mid + 5, 2, bottom - mid - 5);
      } else {
        ctx.fillRect(p.x - 1, top, 2, bottom - top);
      }
      ctx.fillRect(p.x - 5.5, top - 1, 11, 2.5);
      ctx.fillRect(p.x - 5.5, bottom - 1, 11, 2.5);
    });
    ctx.restore();
  },
};

rows.forEach((row) => {
  const count = row.stacks.length;
  const labels = row.stacks.map((_, i) => row.first + i);
  const parsed = row.stacks.map(parseStack);
  const depth = Math.max(...parsed.map((p) => p.layers.length));

  const datasets = [];
  const barOpts = { backgroundColor: "transparent", borderWidth: 0, grouped: false, barPercentage: 0.92, categoryPercentage: 1 };
  for (let k = 0; k < depth; k++) {
    datasets.push({
      ...barOpts,
      data: parsed.map((p) => (p.layers[k] ? [p.layers[k].lo, p.layers[k].hi] : null)),
      letters: parsed.map((p) => (p.layers[k] ? p.layers[k].ch : null)),
    });
  }
  datasets.push({ ...barOpts, data: row.low.map((lo, i) => [lo, row.high[i]]) });

  const canvas = document.createElement("canvas");
  canvas.width = AXIS_LEFT + count * SLOT + 18;
  canvas.height = TOP_ROOM + PLOT_H + BOTTOM_ROOM;
  canvas.style.top = row.zero - PLOT_H - TOP_ROOM + "px";
  document.body.appendChild(canvas);

  new Chart(canvas, {
    type: "bar",
    data: {
      labels,
      datasets,
      logo: { first: row.first, streaks: row.streaks, widths: parsed.map((p) => (p.layers.length ? p.width : 0)) },
    },
    options: {
      responsive: false,
      animation: false,
      devicePixelRatio: 1,
      layout: { padding: { top: TOP_ROOM, right: 18, bottom: 0, left: 0 } },
      plugins: { legend: { display: false }, tooltip: { enabled: false } },
      scales: {
        x: {
          grid: { display: false, drawTicks: false },
          border: { display: false },
          ticks: {
            autoSkip: false, maxRotation: 0, padding: 17, color: "#000",
            font: { family: FONT, size: 37 },
            callback(v, i) { const n = labels[i]; return n % 5 === 0 ? String(n) : ""; },
          },
          afterFit(s) { s.height = BOTTOM_ROOM; },
        },
        y: {
          min: 0, max: 4.32,
          grid: { display: false, drawTicks: false },
          border: { display: true, color: "#000", width: 3 },
          ticks: {
            stepSize: 0.2, autoSkip: false, padding: 25, color: "#000",
            font: { family: FONT, size: 37 },
            callback(v) { return Math.abs(v - Math.round(v)) < 1e-6 ? v.toFixed(1) : ""; },
          },
          title: { display: true, text: "bits", color: "#000", font: { family: FONT, size: 41 }, padding: { top: 13, bottom: 0 } },
          afterFit(s) { s.width = AXIS_LEFT; },
        },
      },
    },
    plugins: [logoPlugin],
  });
});
</script>
</body>
</html>
